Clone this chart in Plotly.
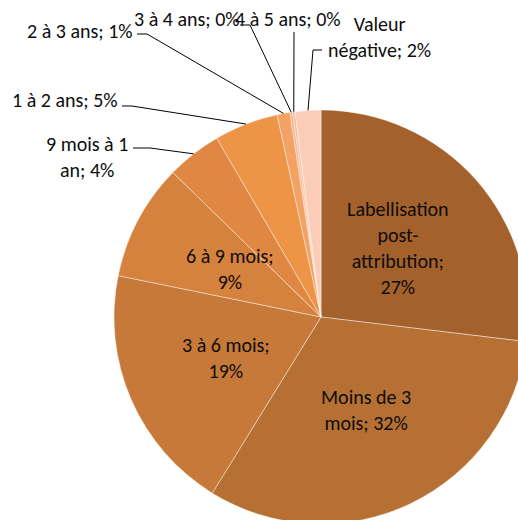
import math
import plotly.graph_objects as go

# ---- data ----
labels = ["Labellisation post-attribution", "Moins de 3 mois", "3 à 6 mois", "6 à 9 mois",
          "9 mois à 1 an", "1 à 2 ans", "2 à 3 ans", "3 à 4 ans", "4 à 5 ans", "Valeur négative"]
values = [26.9, 31.9, 19.4, 9.1, 4.3, 5.0, 1.0, 0.2, 0.2, 2.0]
wrapped = ["Labellisation<br>post-<br>attribution;<br>", "Moins de 3<br>mois; ", "3 à 6 mois;<br>",
           "6 à 9 mois;<br>", "9 mois à 1<br>an; ", "1 à 2 ans; ", "2 à 3 ans; ", "3 à 4 ans; ",
           "4 à 5 ans; ", "Valeur<br>négative; "]
colors = ["#A4612C", "#B77033", "#C67938", "#D5823F", "#E08843", "#EE9447",
          "#F3A264", "#F6B188", "#F9BD9E", "#FBCDB8"]

# ---- layout constants (pixels) ----
W, H = 560, 560
CX, CY, R = 321, 317, 207
FONT = "Carlito, Lato, sans-serif"
FS = 20

def px(x):
    return x / W

def py(y):
    return 1 - y / H

total = sum(values)
texts = [w + f"{round(v / total * 100)}%" for w, v in zip(wrapped, values)]

mids = []
cum = 0.0
for v in values:
    mids.append(2 * math.pi * (cum + v / 2) / total)
    cum += v

def point(i, f):
    t = mids[i]
    return CX + f * R * math.sin(t), CY - f * R * math.cos(t)

fig = go.Figure(go.Pie(
    labels=labels, values=values, sort=False, direction="clockwise", rotation=0,
    textinfo="none", hoverinfo="label+percent", showlegend=False,
    marker=dict(colors=colors, line=dict(color="rgba(255,255,255,0.7)", width=0.6)),
    domain=dict(x=[px(CX - R), px(CX + R)], y=[py(CY + R), py(CY - R)]),
))

annotations = []
# inside labels for the four largest slices
for i in range(4):
    x, y = point(i, 0.5)
    annotations.append(dict(x=px(x), y=py(y), xref="paper", yref="paper", text=texts[i],
                            showarrow=False, xanchor="center", yanchor="middle", align="center"))

# outside labels: (index, x, y, xanchor, align)
outside = [
    (4, 87, 157, "center", "center"),
    (5, 120, 100, "right", "right"),
    (6, 135, 31, "right", "right"),
    (7, 132, 19, "left", "left"),
    (8, 233, 19, "left", "left"),
    (9, 379, 37, "center", "center"),
]
for i, x, y, xa, al in outside:
    annotations.append(dict(x=px(x), y=py(y), xref="paper", yref="paper", text=texts[i],
                            showarrow=False, xanchor=xa, yanchor="middle", align=al))

# leader lines: (index, list of elbow points in px)
leaders = [
    (4, [(133, 148), (150, 148)]),
    (5, [(122, 106), (132, 106)]),
    (6, [(137, 34), (147, 34)]),
    (7, [(240, 25), (250, 25)]),
    (8, [(294, 32)]),
    (9, [(322, 50), (313, 50)]),
]
shapes = []
for i, pts in leaders:
    ex, ey = point(i, 1.0)
    allp = pts + [(ex, ey)]
    path = "M " + " L ".join(f"{px(a):.5f},{py(b):.5f}" for a, b in allp)
    shapes.append(dict(type="path", path=path, xref="paper", yref="paper",
                       line=dict(color="#000000", width=1)))

fig.update_layout(
    width=W, height=H, margin=dict(l=0, r=0, t=0, b=0),
    paper_bgcolor="white", plot_bgcolor="white",
    font=dict(family=FONT, size=FS, color="#0d0d0d"),
    annotations=annotations, shapes=shapes,
)

fig.write_html("out.html", config={"displayModeBar": False}, post_script=(
    "document.body.style.margin='0';"
    "document.body.style.overflow='hidden';"
    "document.documentElement.style.overflow='hidden';"
))
